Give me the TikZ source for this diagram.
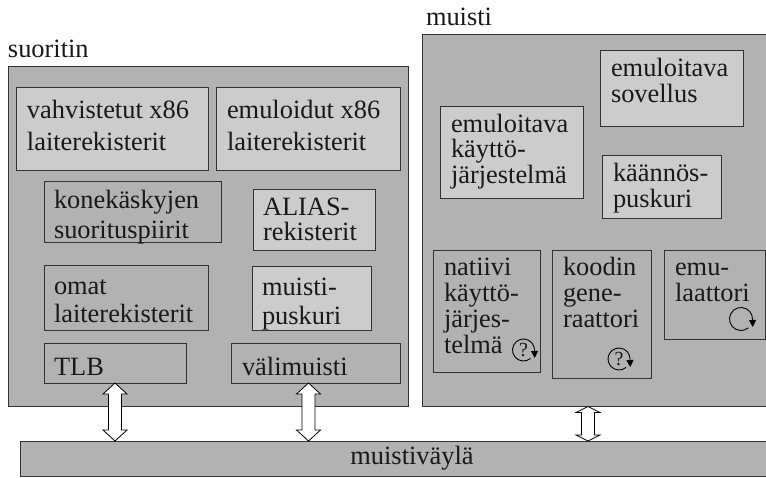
\documentclass[tikz,border=0pt]{standalone}
\usepackage{fontspec}
\setmainfont{Liberation Serif}
\usetikzlibrary{arrows.meta,calc}
\definecolor{midgray}{HTML}{B2B2B2}
\definecolor{lightgray}{HTML}{CCCCCC}
\definecolor{edgegray}{HTML}{333333}
\tikzset{
  x=1pt,y=1pt,
  panel/.style={draw=edgegray,line width=0.9pt,fill=midgray,inner sep=0pt,outer sep=0pt,anchor=north west},
  midbox/.style={panel},
  lightbox/.style={panel,fill=lightgray},
  txt/.style={inner sep=0pt,outer sep=0pt,anchor=base west,align=left,text=black!90},
  lead/.style={font=\fontsize{26.4}{#1}\selectfont},
  busarrow/.style={draw=black,fill=white,line width=0.8pt,line join=miter,to path={
    let \p1=(\tikztostart),\p2=(\tikztotarget) in
    (\x1,\y1) -- (\x1+12,\y1-#1) -- (\x1+6.5,\y1-#1) -- (\x1+6.5,\y2+#1) -- (\x1+12,\y2+#1)
    -- (\x2,\y2) -- (\x1-12,\y2+#1) -- (\x1-6.5,\y2+#1) -- (\x1-6.5,\y1-#1) -- (\x1-12,\y1-#1) -- cycle}},
  loopline/.style={draw=black,line width=0.9pt,-{Triangle[length=7pt,width=7pt]}},
  qmark/.style={inner sep=0pt,font=\fontsize{20}{20}\selectfont,text=black!90}
}
\begin{document}
\begin{tikzpicture}
\useasboundingbox (0,0) rectangle (766,-477);
\clip (0,0) rectangle (766,-477);
% outer panels
\node[panel,minimum width=400pt,minimum height=340pt] (cpu) at (8,-66) {};
\node[panel,minimum width=360pt,minimum height=372pt] (mem) at (422,-34) {};
\node[panel,minimum width=760pt,minimum height=35pt] (bus) at (20,-441) {};
% captions
\node[txt,lead=24] (cpulabel) at (8,-57) {suoritin};
\node[txt,lead=24] (memlabel) at (426,-25) {muisti};
% processor
\node[lightbox,minimum width=192pt,minimum height=83pt] (vahv) at (16,-87) {};
\node[txt,lead=32] (vahvt) at (27,-150) {vahvistetut x86\\laiterekisterit};
\node[lightbox,minimum width=184pt,minimum height=83pt] (emul) at (216,-87) {};
\node[txt,lead=32] (emult) at (227,-150) {emuloidut x86\\laiterekisterit};
\node[midbox,minimum width=177pt,minimum height=61pt] (kone) at (44,-181) {};
\node[txt,lead=30] (konet) at (54,-238) {konekäskyjen\\suorituspiirit};
\node[lightbox,minimum width=122pt,minimum height=61pt] (alias) at (253,-189) {};
\node[txt,lead=25] (aliast) at (263,-240) {ALIAS-\\rekisterit};
\node[midbox,minimum width=164pt,minimum height=65pt] (omat) at (44,-265) {};
\node[txt,lead=28] (omatt) at (54,-322) {omat\\laiterekisterit};
\node[lightbox,minimum width=119pt,minimum height=64pt] (pusk) at (252,-266) {};
\node[txt,lead=29] (puskt) at (262,-324) {muisti-\\puskuri};
\node[midbox,minimum width=142pt,minimum height=40pt] (tlb) at (44,-343) {};
\node[txt,lead=24] (tlbt) at (54,-375) {TLB};
\node[midbox,minimum width=169pt,minimum height=40pt] (vali) at (231,-343) {};
\node[txt,lead=24] (valit) at (242,-375) {välimuisti};
% memory
\node[lightbox,minimum width=143pt,minimum height=76pt] (sov) at (600,-50) {};
\node[txt,lead=26] (sovt) at (611,-102) {emuloitava\\sovellus};
\node[lightbox,minimum width=143pt,minimum height=92pt] (kaytto) at (440,-106) {};
\node[txt,lead=25.7] (kayttot) at (451,-183.4) {emuloitava\\käyttö-\\järjestelmä};
\node[lightbox,minimum width=119pt,minimum height=63pt] (kaan) at (602,-155) {};
\node[txt,lead=26] (kaant) at (613,-207) {käännös-\\puskuri};
\node[midbox,minimum width=107pt,minimum height=122pt] (nat) at (433,-250) {};
\node[txt,lead=26] (natt) at (444,-353) {natiivi\\käyttö-\\järjes-\\telmä};
\node[midbox,minimum width=99pt,minimum height=128pt] (gen) at (552,-250) {};
\node[txt,lead=26] (gent) at (563,-327) {koodin\\gene-\\raattori};
\node[midbox,minimum width=101pt,minimum height=89pt] (emu) at (664,-250) {};
\node[txt,lead=26] (emut) at (675,-301) {emu-\\laattori};
% loops
\node[qmark] (q1) at (523.5,-350) {?};
\draw[loopline] (q1) ++(-50:11) arc[start angle=-50,end angle=-360,radius=11] -- ++(0.2,-8);
\node[qmark] (q2) at (619,-359) {?};
\draw[loopline] (q2) ++(-50:11) arc[start angle=-50,end angle=-360,radius=11] -- ++(0.2,-8);
\coordinate (lp) at (741,-319);
\draw[loopline] (lp) ++(-50:11.5) arc[start angle=-50,end angle=-360,radius=11.5] -- ++(0.2,-8);
% bus arrows
\coordinate (a1t) at (115,-383); \coordinate (a1b) at (115,-441);
\coordinate (a2t) at (308.5,-383); \coordinate (a2b) at (308.5,-441);
\coordinate (a3t) at (588,-406.5); \coordinate (a3b) at (588,-441);
\draw[busarrow=11] (a1t) to (a1b);
\draw[busarrow=11] (a2t) to (a2b);
\draw[busarrow=6] (a3t) to (a3b);
% bus label
\node[inner sep=0pt,font=\fontsize{26.4}{24}\selectfont,text=black!90] (bust) at (412,-458) {muistiväylä};
\end{tikzpicture}
\end{document}
